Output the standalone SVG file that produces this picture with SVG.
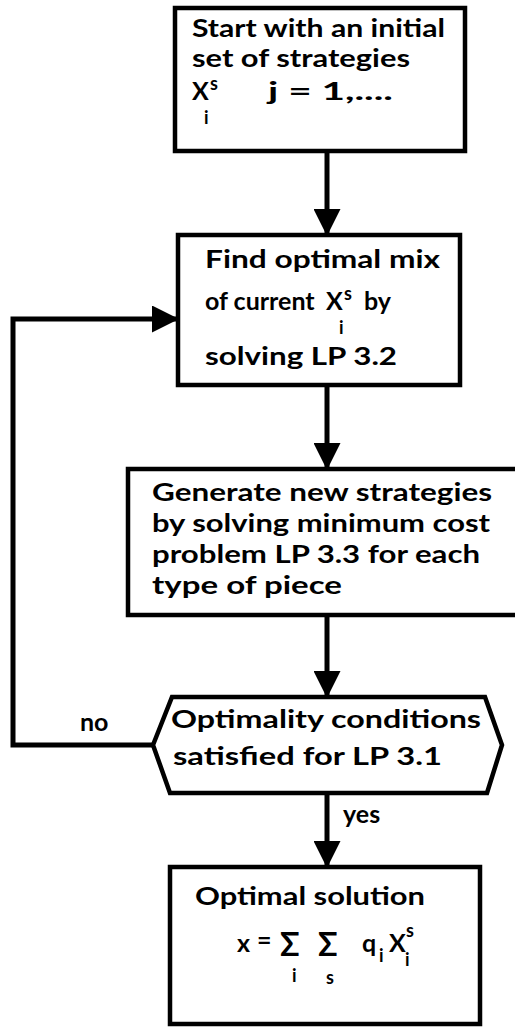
<svg xmlns="http://www.w3.org/2000/svg" width="515" height="1027" viewBox="0 0 515 1027">
  <style>
    .box { fill: #fff; stroke: #000; stroke-width: 4.5; stroke-linejoin: miter; }
    .wire { fill: none; stroke: #000; stroke-width: 5; }
    text { font-family: Lato, "Liberation Sans", Arial, sans-serif; font-weight: bold; fill: #000; }
    .t { font-size: 25px; }
    .sm { font-size: 18px; }
    .sig { font-size: 32px; }
  </style>
  <defs>
    <marker id="head" markerWidth="5.4" markerHeight="5.4" refX="5" refY="2.7" orient="auto" markerUnits="strokeWidth">
      <path d="M0,0 L5.4,2.7 L0,5.4 Z" fill="#000"/>
    </marker>
  </defs>
  <rect width="515" height="1027" fill="#fff"/>

  <!-- flow arrows and the loop back from the test -->
  <g id="connectors">
    <line class="wire" x1="327" y1="151" x2="327" y2="234" marker-end="url(#head)"/>
    <line class="wire" x1="327" y1="385" x2="327" y2="468" marker-end="url(#head)"/>
    <line class="wire" x1="327" y1="615" x2="327" y2="696" marker-end="url(#head)"/>
    <line class="wire" x1="327" y1="793" x2="327" y2="866" marker-end="url(#head)"/>
    <polyline class="wire" points="153,745 13,745 13,319 177,319" marker-end="url(#head)"/>
    <text class="t" x="80" y="731">no</text>
    <text class="t" x="343" y="823">yes</text>
  </g>

  <g id="start">
    <rect class="box" x="175" y="8" width="290" height="143"/>
    <text class="t" x="192" y="37" textLength="253" lengthAdjust="spacingAndGlyphs">Start with an initial</text>
    <text class="t" x="192" y="67" textLength="218" lengthAdjust="spacingAndGlyphs">set of strategies</text>
    <text class="t" x="192" y="100">X</text>
    <text class="sm" x="210" y="90">s</text>
    <text class="sm" x="204" y="124">i</text>
    <text class="t" x="268" y="100" textLength="125" lengthAdjust="spacingAndGlyphs">j = 1,....</text>
  </g>

  <g id="mix">
    <rect class="box" x="178" y="235" width="282" height="150"/>
    <text class="t" x="205" y="268" textLength="235" lengthAdjust="spacingAndGlyphs">Find optimal mix</text>
    <text class="t" x="205" y="310">of current</text>
    <text class="t" x="326" y="310">X</text>
    <text class="sm" x="344" y="300">s</text>
    <text class="sm" x="339" y="334">i</text>
    <text class="t" x="364" y="310">by</text>
    <text class="t" x="205" y="365" textLength="192" lengthAdjust="spacingAndGlyphs">solving LP 3.2</text>
  </g>

  <g id="generate">
    <rect class="box" x="128" y="469" width="395" height="146"/>
    <text class="t" x="152" y="501" textLength="340" lengthAdjust="spacingAndGlyphs">Generate new strategies</text>
    <text class="t" x="152" y="532" textLength="338" lengthAdjust="spacingAndGlyphs">by solving minimum cost</text>
    <text class="t" x="152" y="563" textLength="328" lengthAdjust="spacingAndGlyphs">problem LP 3.3 for each</text>
    <text class="t" x="152" y="594" textLength="190" lengthAdjust="spacingAndGlyphs">type of piece</text>
  </g>

  <g id="check">
    <polygon class="box" points="153,745 172,697 485,697 502,745 487,793 170,793"/>
    <text class="t" x="171" y="728" textLength="310" lengthAdjust="spacingAndGlyphs">Optimality conditions</text>
    <text class="t" x="173" y="765" textLength="269" lengthAdjust="spacingAndGlyphs">satisfied for LP 3.1</text>
  </g>

  <g id="solution">
    <rect class="box" x="170" y="867" width="310" height="157"/>
    <text class="t" x="195" y="905" textLength="230" lengthAdjust="spacingAndGlyphs">Optimal solution</text>
    <text class="t" x="237" y="952">x</text>
    <text class="t" x="257" y="949">=</text>
    <text class="sig" x="280" y="956">Σ</text>
    <text class="sm" x="292" y="982">i</text>
    <text class="sig" x="318" y="956">Σ</text>
    <text class="sm" x="326" y="984">s</text>
    <text class="t" x="362" y="952">q</text>
    <text class="sm" x="379" y="962">i</text>
    <text class="t" x="389" y="952">X</text>
    <text class="sm" x="406" y="937">s</text>
    <text class="sm" x="405" y="966">i</text>
  </g>
</svg>
